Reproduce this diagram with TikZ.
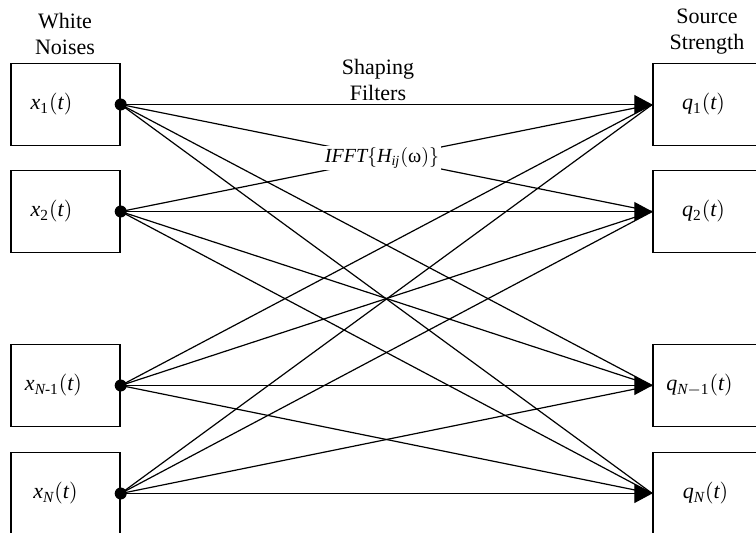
\documentclass[tikz,border=0pt]{standalone}
\usepackage{mathspec}
\setmainfont{Liberation Serif}
\setmathsfont(Digits,Latin)[Scale=1]{Liberation Serif}
\setmathsfont(Greek)[Uppercase=Regular,Lowercase=Regular]{Liberation Serif}
\usetikzlibrary{arrows.meta}
\tikzset{
    box/.style={draw, line width=0.7pt, minimum width=54.5pt, minimum height=41pt, inner sep=0pt},
    filt/.style={line width=0.6pt},
    head/.style={filt, -{Triangle[length=9pt, width=9.5pt]}},
    every node/.style={font=\fontsize{11}{13}\selectfont},
}
\begin{document}
\begin{tikzpicture}[x=0.5pt, y=-0.5pt]
    \clip (0,0) rectangle (756,532);
    \fill[white] (0,0) rectangle (756,532);

    % inputs and outputs
    \node[box] (x1) at (65.5,104.5) {};
    \node[box] (x2) at (65.5,211.5) {};
    \node[box] (xn1) at (65.5,385.5) {};
    \node[box] (xn) at (65.5,493.5) {};
    \node[box] (q1) at (707.5,104.5) {};
    \node[box] (q2) at (707.5,211.5) {};
    \node[box] (qn1) at (707.5,385.5) {};
    \node[box] (qn) at (707.5,493.5) {};

    \node (x1l) at ([xshift=-7pt]x1.center) {$x_1(t)$};
    \node (x2l) at ([xshift=-7pt]x2.center) {$x_2(t)$};
    \node (xn1l) at ([xshift=-6pt]xn1.center) {$x_{N\text{-}1}(t)$};
    \node (xnl) at ([xshift=-5pt]xn.center) {$x_N(t)$};
    \node (q1l) at ([xshift=-2pt]q1.center) {$q_1(t)$};
    \node (q2l) at ([xshift=-2pt]q2.center) {$q_2(t)$};
    \node (qn1l) at ([xshift=-4pt]qn1.center) {$q_{N-1}(t)$};
    \node (qnl) at ([xshift=-1pt]qn.center) {$q_N(t)$};

    \node[align=center] (noise) at (65,34) {White\\Noises};
    \node[align=center] (source) at (707,32) {Source\\Strength};
    \node[align=center] (shaping) at (378,80) {Shaping\\Filters};

    % filters from every input to every output
    \foreach \s in {x1,x2,xn1,xn}
        \foreach \t in {q1,q2,qn1,qn}
            \draw[filt] (\s.east) -- (\t.west);
    \foreach \t in {q1,q2,qn1,qn}
        \draw[head] ([xshift=-1pt]\t.west) -- (\t.west);
    \foreach \s in {x1,x2,xn1,xn}
        \fill (\s.east) circle (3pt);

    \node[fill=white, inner sep=1pt, font=\fontsize{10}{12}\selectfont] (ifft) at (382,158) {$IFFT\{H_{ij}(\text{ω})\}$};
\end{tikzpicture}
\end{document}
